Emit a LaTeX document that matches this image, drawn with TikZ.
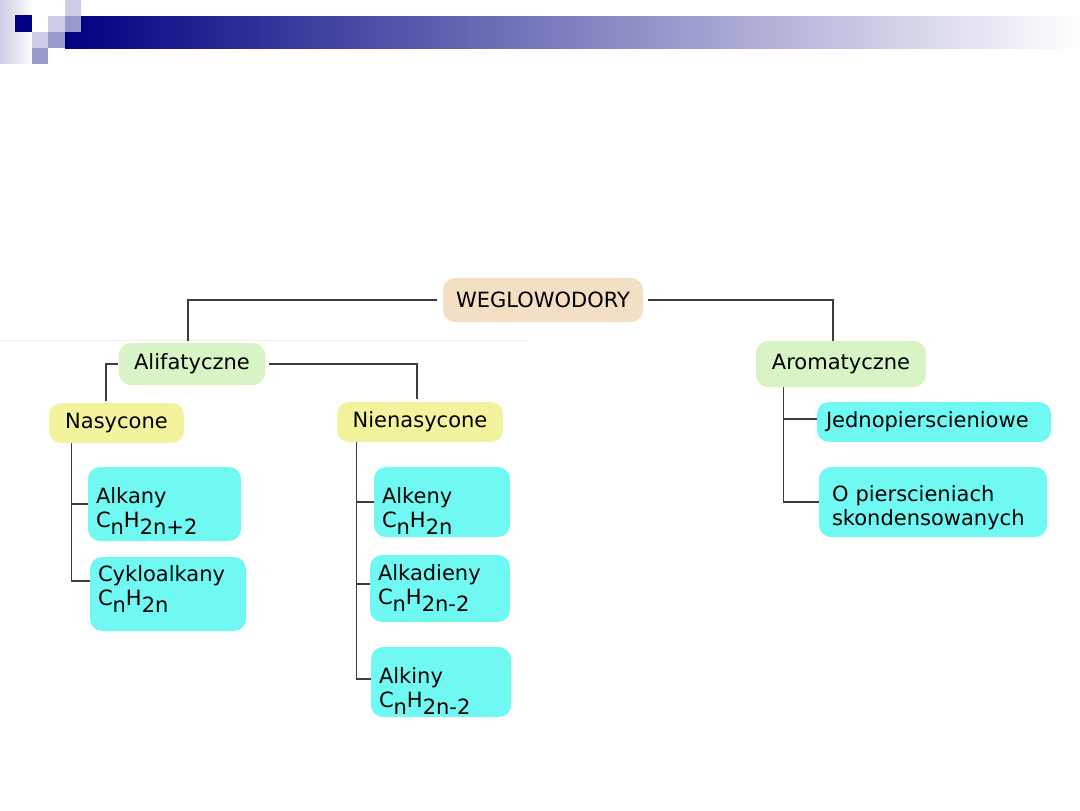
\documentclass[tikz,border=0pt]{standalone}
\usepackage{fontspec}
\setmainfont{DejaVu Sans}
\usepackage{xcolor}
\definecolor{hdrnavy}{HTML}{000080}
\definecolor{lavlight}{HTML}{CCCCE6}
\definecolor{lavmid}{HTML}{9999CC}
\definecolor{rootfill}{HTML}{F2DFC4}
\definecolor{grpfill}{HTML}{D8F3C6}
\definecolor{subfill}{HTML}{F3F39E}
\definecolor{leaffill}{HTML}{70F8F2}
\definecolor{linegray}{HTML}{3C3C3C}
\usepackage{tikz}
\usetikzlibrary{calc}
\newcommand{\lowr}[1]{\raisebox{-3.5pt}{#1}}
\newcommand{\padtop}[1]{\rule{0pt}{#1}}
\newcommand{\padbot}[1]{\rule[-#1]{0pt}{0pt}}
\tikzset{
  rootbox/.style={rectangle, rounded corners=6pt, fill=rootfill, text=black, align=center,
                  inner sep=3pt, font=\fontsize{10.5pt}{12pt}\selectfont},
  grpbox/.style ={rectangle, rounded corners=6pt, fill=grpfill, text=black, align=center,
                  inner sep=3pt, font=\fontsize{10.5pt}{12pt}\selectfont},
  subbox/.style ={rectangle, rounded corners=6pt, fill=subfill, text=black, align=center,
                  inner sep=3pt, font=\fontsize{10.5pt}{12pt}\selectfont},
  leafbox/.style={rectangle, rounded corners=6pt, fill=leaffill, text=black, align=left,
                  inner xsep=4pt, inner ysep=1pt, font=\fontsize{10.5pt}{12pt}\selectfont},
  conn/.style   ={draw=linegray, line width=0.75pt},
}

\begin{document}
\begin{tikzpicture}[x=0.5pt, y=-0.5pt]
  \useasboundingbox (0,0) rectangle (1080,810);
  % header squares and band
  \shade[left color=lavlight, right color=white] (0,0) rectangle (33,63);
  \shade[left color=hdrnavy, right color=white] (65,16) rectangle (1080,48);
  \fill[hdrnavy] (15,15) rectangle (32,32);
  \fill[lavlight] (65,0) rectangle (81,16);
  \fill[lavlight] (48,16) rectangle (65,32);
  \fill[lavmid] (65,16) rectangle (81,32);
  \fill[lavlight] (32,32) rectangle (48,48);
  \fill[lavmid] (48,32) rectangle (65,48);
  \fill[lavmid] (32,48) rectangle (48,64);
  \draw[black!6, line width=0.5pt] (0,340) -- (528,340);

  % tree
  \node[rootbox, minimum width=100pt, minimum height=22pt] (weg) at (543,300) {WEGLOWODORY};
  \node[grpbox, minimum width=73pt, minimum height=21pt] (alif) at (192,364) {Alifatyczne};
  \node[grpbox, minimum width=85pt, minimum height=23pt] (arom) at (841,364) {Aromatyczne};
  \node[subbox, minimum width=67.5pt, minimum height=20pt] (nas) at (116.5,423) {Nasycone};
  \node[subbox, minimum width=83pt, minimum height=20pt] (nienas) at (420,422) {Nienasycone};

  \node[leafbox, text width=68.5pt, minimum height=37pt] (alkany) at (164.5,504) {\padtop{15pt}Alkany\\C\lowr{n}H\lowr{2n+2}};
  \node[leafbox, text width=70pt, minimum height=37pt] (cyklo) at (168,594) {Cykloalkany\\C\lowr{n}H\lowr{2n}\padbot{8pt}};
  \node[leafbox, text width=60pt, minimum height=35pt] (alken) at (442,502) {\padtop{17pt}Alkeny\\C\lowr{n}H\lowr{2n}};
  \node[leafbox, text width=62pt, minimum height=33.5pt] (alkad) at (440,588.5) {Alkadieny\\C\lowr{n}H\lowr{2n-2}};
  \node[leafbox, text width=62pt, minimum height=35pt] (alkin) at (441,682) {\padtop{17pt}Alkiny\\C\lowr{n}H\lowr{2n-2}};
  \node[leafbox, inner xsep=4.5pt, text width=108pt, minimum height=20pt] (jedno) at (934,422) {Jednopierscieniowe};
  \node[leafbox, inner xsep=6.5pt, text width=101pt, minimum height=35pt] (oprs) at (933,502) {\padtop{13.5pt}O pierscieniach\\skondensowanych};

  \draw[conn, shorten >=1pt] ([xshift=-3pt]weg.west) -| ([xshift=-2pt]alif.north);
  \draw[conn] ([xshift=2.5pt]weg.east) -| ([xshift=-4pt]arom.north);
  \draw[conn, shorten >=1pt] ([xshift=-0.5pt]alif.west) -| ([xshift=-5.25pt]nas.north);
  \draw[conn, shorten >=1.5pt] ([xshift=2pt]alif.east) -| ([xshift=-1.5pt]nienas.north);

  \draw[conn] ([xshift=11.5pt]nas.south west) |- (alkany.west);
  \draw[conn] ([xshift=11.5pt]nas.south west) |- ([yshift=6.5pt]cyklo.west);
  \draw[conn] ([xshift=10pt]nienas.south west) |- (alken.west);
  \draw[conn] ([xshift=10pt]nienas.south west) |- ([yshift=2.25pt]alkad.west);
  \draw[conn] ([xshift=10pt]nienas.south west) |- ([yshift=1.5pt]alkin.west);
  \draw[conn] ([xshift=14pt]arom.south west) |- ([yshift=1.5pt]jedno.west);
  \draw[conn] ([xshift=14pt]arom.south west) |- (oprs.west);
\end{tikzpicture}
\end{document}
